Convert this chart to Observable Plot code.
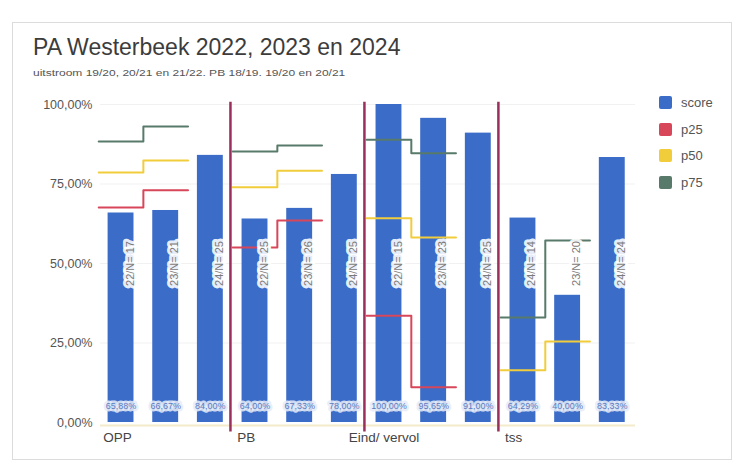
<!DOCTYPE html>
<html>
<head>
<meta charset="utf-8">
<script src="https://cdn.jsdelivr.net/npm/d3@7"></script>
<script src="https://cdn.jsdelivr.net/npm/@observablehq/plot@0.6"></script>
<style>
  html, body { margin: 0; padding: 0; background: #fff; }
  body { width: 738px; height: 466px; overflow: hidden; font-family: "Liberation Sans", Arial, sans-serif; }
  #wrap { position: relative; width: 738px; height: 466px; }
  #card { position: absolute; left: 12px; top: 22px; width: 720px; height: 438px; border: 1px solid #dcdcdc; box-sizing: border-box; }
  #title { position: absolute; left: 33px; top: 34px; font-size: 23px; color: #3c3c3c; white-space: nowrap; }
  #subtitle { position: absolute; left: 33px; top: 66px; font-size: 12px; color: #555; white-space: nowrap; transform: scaleY(0.8); transform-origin: left center; }
  #legend { position: absolute; left: 659px; top: 89px; }
  .item { display: flex; align-items: center; height: 26.7px; font-size: 13px; color: #555; }
  .sw { width: 13px; height: 13px; border-radius: 2px; margin-right: 9px; }
  #chart { position: absolute; left: 0; top: 0; }
</style>
</head>
<body>
<div id="wrap">
  <div id="card"></div>
  <div id="chart"></div>
  <div id="title"></div>
  <div id="subtitle"></div>
  <div id="legend"></div>
</div>
<script>
// ---- data ----
const titleText = "PA Westerbeek 2022, 2023 en 2024";
const subtitleText = "uitstroom 19/20, 20/21 en 21/22. PB 18/19. 19/20 en 20/21";
const groups = ["OPP", "PB", "Eind/ vervol", "tss"];
const barsPerGroup = 3;
const scores = [65.88, 66.67, 84.00, 64.00, 67.33, 78.00, 100.00, 95.65, 91.00, 64.29, 40.00, 83.33];
const barLabels = ["22/N= 17", "23/N= 21", "24/N= 25", "22/N= 25", "23/N= 26", "24/N= 25",
                   "22/N= 15", "23/N= 23", "24/N= 25", "24/N= 14", "23/N= 20", "24/N= 24"];
// percentile step lines per group: [first value, second value]
const p25 = [[67.6, 73.0], [55.0, 63.5], [33.6, 11.1], [null, null]];
const p50 = [[78.6, 82.4], [74.0, 79.2], [64.2, 58.2], [16.4, 25.5]];
const p75 = [[88.4, 93.1], [85.2, 87.1], [88.9, 84.7], [33.0, 57.2]];
const yTicks = [0, 25, 50, 75, 100];
const seriesNames = ["score", "p25", "p50", "p75"];
const seriesColors = ["#3b6cc8", "#d8465a", "#f1cd3c", "#587a6a"];

// ---- derived tables ----
const fmt = v => v.toFixed(2).replace(".", ",") + "%";
const bars = scores.map((v, i) => ({i, v, label: barLabels[i], txt: fmt(v)}));
const stepRows = [];
[[p25, "p25"], [p50, "p50"], [p75, "p75"]].forEach(([arr, name]) => {
  arr.forEach((pair, g) => {
    if (pair[0] == null) return;
    const s = g * barsPerGroup - 0.5;
    stepRows.push({x: s, y: pair[0], key: name + g, series: name});
    stepRows.push({x: s + 1, y: pair[1], key: name + g, series: name});
    stepRows.push({x: s + 2, y: pair[1], key: name + g, series: name});
  });
});
const dividers = groups.slice(1).map((_, g) => (g + 1) * barsPerGroup - 0.55);
const groupLabels = groups.map((name, g) => ({name, x: g * barsPerGroup - 0.4 - (g === 2 ? 0.5 : 0)}));
const colorOf = Object.fromEntries(seriesNames.map((n, k) => [n, seriesColors[k]]));

document.getElementById("title").textContent = titleText;
document.getElementById("subtitle").textContent = subtitleText;
const leg = document.getElementById("legend");
seriesNames.forEach((n, k) => {
  const d = document.createElement("div");
  d.className = "item";
  d.innerHTML = `<span class="sw" style="background:${seriesColors[k]}"></span><span>${n}</span>`;
  leg.appendChild(d);
});

const chart = Plot.plot({
  width: 738,
  height: 466,
  marginLeft: 100,
  marginRight: 103,
  marginTop: 104,
  marginBottom: 44,
  style: {fontFamily: "'Liberation Sans', Arial, sans-serif", background: "transparent"},
  x: {domain: [-0.46, 11.52], axis: null},
  y: {domain: [0, 100], ticks: yTicks, tickFormat: fmt, label: null, tickSize: 0, tickPadding: 8},
  marks: [
    Plot.ruleY(yTicks.slice(1), {stroke: "#f1f1f1"}),
    Plot.ruleY([0], {stroke: "#f3ebcc", strokeWidth: 2, dy: 3}),
    Plot.rect(bars, {x1: d => d.i - 0.29, x2: d => d.i + 0.29, y1: 0, y2: "v", fill: colorOf.score}),
    Plot.line(stepRows, {x: "x", y: "y", z: "key", stroke: d => colorOf[d.series], curve: "step-after", strokeWidth: 2}),
    Plot.ruleX(dividers, {y1: -3, y2: 100.7, stroke: "#9a2f5c", strokeWidth: 2.5}),
    Plot.text(bars, {x: "i", y: 50, text: "label", rotate: -90, dx: 9, fontSize: 11, fill: "#7a7a7a",
      stroke: "white", strokeWidth: 6, strokeOpacity: 0.9}),
    Plot.text(bars, {x: "i", y: 5.2, text: "txt", fontSize: 9, fill: "#5b7bc0",
      stroke: "#e6ecf8", strokeWidth: 5, strokeOpacity: 0.85}),
    Plot.text(groupLabels, {x: "x", y: 0, text: "name", textAnchor: "start", dy: 15, fontSize: 13.5, fill: "#444"}),
    Plot.axisY({ticks: yTicks, tickFormat: fmt, tickSize: 0, tickPadding: 8, fontSize: 12.5, color: "#555", label: null})
  ]
});
chart.style.color = "#555";
document.getElementById("chart").appendChild(chart);
</script>
</body>
</html>
